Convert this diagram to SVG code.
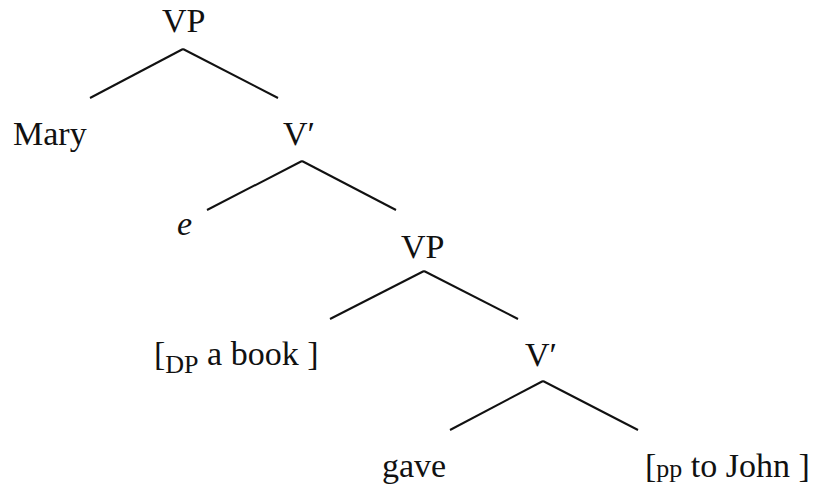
<svg xmlns="http://www.w3.org/2000/svg" width="816" height="485" viewBox="0 0 816 485">
<style>
.t{font-size:34px;fill:#111}
.s{font-size:26px}
.conn line{stroke:#111;stroke-width:2}
</style>
<rect width="816" height="485" fill="#fff"/>
<g id="connectors" class="conn">
<line x1="183" y1="49" x2="90" y2="98"/>
<line x1="183" y1="49" x2="278" y2="98"/>
<line x1="302" y1="161" x2="207" y2="210"/>
<line x1="302" y1="161" x2="396" y2="210"/>
<line x1="424" y1="271" x2="330" y2="319"/>
<line x1="424" y1="271" x2="518" y2="319"/>
<line x1="543" y1="381" x2="450" y2="430"/>
<line x1="543" y1="381" x2="638" y2="430"/>
</g>
<g id="vp1"><text class="t" style="font-family:'Liberation Serif',serif" x="162" y="32">VP</text></g>
<g id="mary"><text class="t" style="font-family:'Liberation Serif',serif" x="13" y="145">Mary</text></g>
<g id="vbar1"><text class="t" style="font-family:'Liberation Serif',serif" x="283" y="145">V&#8242;</text></g>
<g id="e"><text class="t" style="font-family:'Liberation Serif',serif;font-style:italic" x="177" y="235">e</text></g>
<g id="vp2"><text class="t" style="font-family:'Liberation Serif',serif" x="401" y="258">VP</text></g>
<g id="dp"><text class="t" style="font-family:'Liberation Serif',serif" x="154" y="365">[<tspan class="s" dy="8">DP</tspan><tspan dy="-8"> a book ]</tspan></text></g>
<g id="vbar2"><text class="t" style="font-family:'Liberation Serif',serif" x="525" y="366">V&#8242;</text></g>
<g id="gave"><text class="t" style="font-family:'Liberation Serif',serif" x="382" y="477">gave</text></g>
<g id="pp"><text class="t" style="font-family:'Liberation Serif',serif" x="645" y="477">[<tspan class="s">pp</tspan> to John ]</text></g>
</svg>
